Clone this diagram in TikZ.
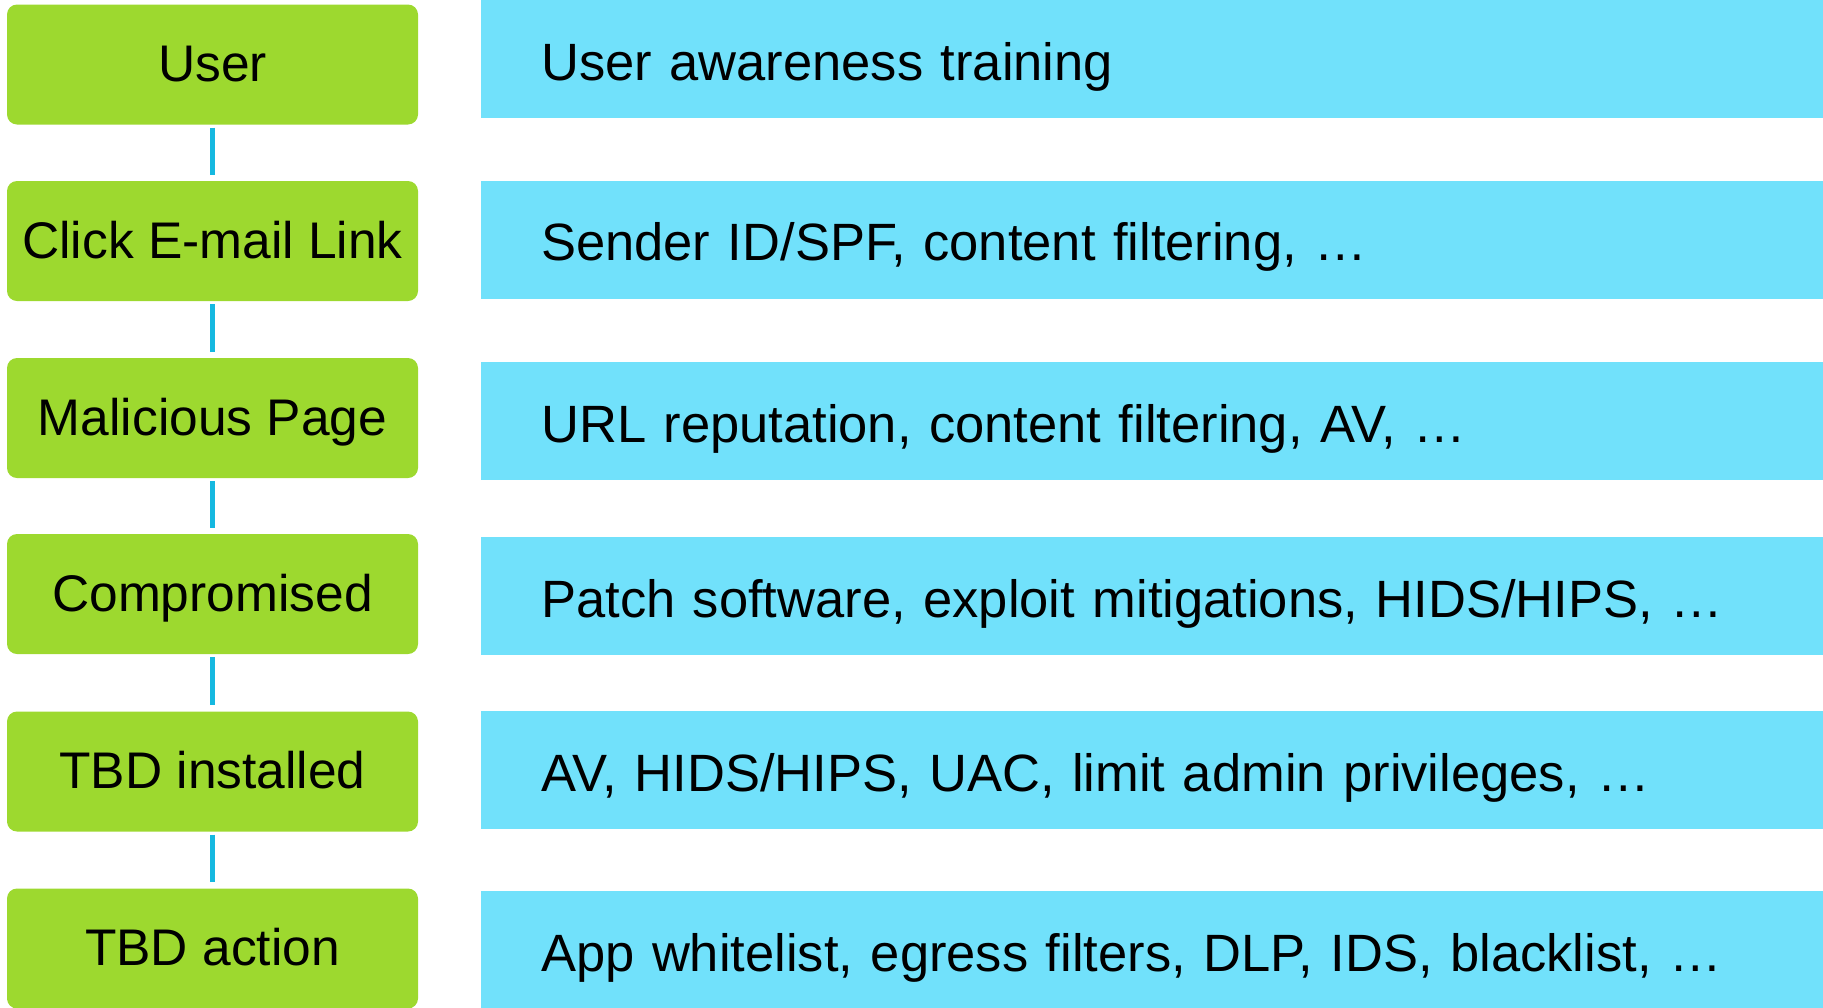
\documentclass[tikz,border=0pt]{standalone}
\usepackage{fontspec}
\setmainfont{Liberation Sans}
\definecolor{stepgreen}{HTML}{9DD92F}
\definecolor{ctrlblue}{HTML}{71E1FB}
\definecolor{linkblue}{HTML}{15B8E0}
\begin{document}
\begin{tikzpicture}[x=1pt,y=-1pt,
  stage/.style={fill=stepgreen, rounded corners=10pt, minimum width=411pt, minimum height=120pt,
    inner sep=0pt, text height=37pt, text depth=3pt, font=\fontsize{51.5}{60}\selectfont, anchor=center},
  ctrl/.style={fill=ctrlblue, minimum width=1342pt, minimum height=118pt, inner xsep=60pt, inner ysep=0pt,
    text width=1222pt, align=left, text height=42pt, text depth=0pt, font=\fontsize{52.5}{60}\selectfont, anchor=west},
  link/.style={draw=linkblue, line width=5pt}]
\useasboundingbox (0,0) rectangle (1823,1007);
\node[stage] (s1) at (212.5,64.5) {User};
\node[stage] (s2) at (212.5,241) {Click E-mail Link};
\node[stage] (s3) at (212.5,418) {Malicious Page};
\node[stage] (s4) at (212.5,594) {Compromised};
\node[stage] (s5) at (212.5,771.5) {TBD installed};
\node[stage] (s6) at (212.5,948.5) {TBD action};
\node[ctrl] (c1) at (481,59) {User awareness training};
\node[ctrl] (c2) at (481,239.5) {Sender ID/SPF, content filtering, …};
\node[ctrl] (c3) at (481,421) {URL reputation, content filtering, AV, …};
\node[ctrl] (c4) at (481,596) {Patch software, exploit mitigations, HIDS/HIPS, …};
\node[ctrl] (c5) at (481,770) {AV, HIDS/HIPS, UAC, limit admin privileges, …};
\node[ctrl] (c6) at (481,950) {App whitelist, egress filters, DLP, IDS, blacklist, …};
\foreach \a/\b in {s1/s2,s2/s3,s3/s4,s4/s5,s5/s6}
  \draw[link] ([yshift=-3pt]\a.south) -- ([yshift=6pt]\b.north);
\end{tikzpicture}
\end{document}
